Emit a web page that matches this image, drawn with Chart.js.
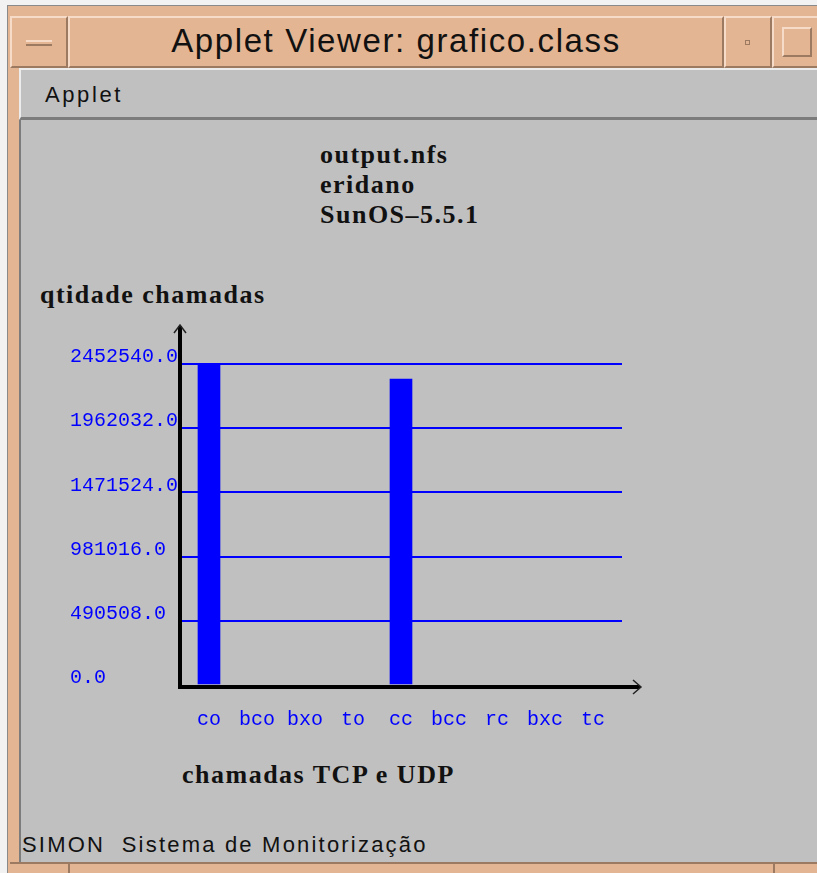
<!DOCTYPE html>
<html>
<head>
<meta charset="utf-8">
<script src="https://cdn.jsdelivr.net/npm/chart.js@4/dist/chart.umd.min.js"></script>
<style>
  html, body { margin: 0; padding: 0; width: 817px; height: 873px; overflow: hidden; background: #f2f2f2; }
  .abs { position: absolute; box-sizing: border-box; }
  .peach { background: #e4b592; }
  .bev { border-top: 2px solid #f6dcc8; border-left: 2px solid #f6dcc8; border-right: 2px solid #9c7a62; border-bottom: 2px solid #9c7a62; }
  .sans { font-family: "Liberation Sans", Arial, sans-serif; color: #111; }
  .serif { font-family: "Liberation Serif", "Times New Roman", serif; font-weight: bold; color: #111; letter-spacing: 1.5px; }
  #wrap { position: absolute; left: 0; top: 0; width: 817px; height: 873px; }
</style>
</head>
<body>
<!-- janela -->
<div class="abs" style="left:7px;top:5px;width:830px;height:880px;border:1px solid #8a8a8a;background:#e4b592;"></div>
<div class="abs peach bev" style="left:10px;top:16px;width:58px;height:52px;"></div>
<div class="abs" style="left:26px;top:40px;width:26px;height:6px;border-top:2px solid #f6dcc8;border-bottom:2px solid #9c7a62;background:#e4b592;"></div>
<div class="abs peach bev" style="left:68px;top:16px;width:656px;height:52px;"></div>
<div class="abs peach bev" style="left:724px;top:16px;width:48px;height:52px;"></div>
<div class="abs" style="left:745px;top:40px;width:5px;height:5px;border:1px solid #9c7a62;"></div>
<div class="abs peach bev" style="left:772px;top:16px;width:60px;height:52px;"></div>
<div class="abs" style="left:782px;top:27px;width:30px;height:30px;border-top:2px solid #f6dcc8;border-left:2px solid #f6dcc8;border-right:2px solid #9c7a62;border-bottom:2px solid #9c7a62;"></div>
<div class="abs sans" style="left:68px;top:19px;width:656px;height:44px;line-height:44px;text-align:center;font-size:33px;letter-spacing:1.6px;">Applet Viewer: grafico.class</div>
<!-- menu -->
<div class="abs" style="left:19px;top:68px;width:810px;height:52px;background:#c0c0c0;border-top:2px solid #ececec;border-left:2px solid #ececec;border-bottom:3px solid #7c7c7c;"></div>
<div class="abs sans" style="left:45px;top:80px;font-size:22px;line-height:30px;letter-spacing:2.6px;">Applet</div>
<!-- conteudo -->
<div class="abs" style="left:19px;top:120px;width:810px;height:742px;background:#c0c0c0;border-left:2px solid #7c7c7c;"></div>
<div class="abs" style="left:10px;top:862px;width:820px;height:12px;background:#e4b592;border-top:2px solid #9c7a62;"></div>
<div class="abs" style="left:68px;top:864px;width:2px;height:10px;background:#9c7a62;"></div>
<div class="abs" style="left:773px;top:864px;width:2px;height:10px;background:#9c7a62;"></div>
<div class="abs sans" style="left:22px;top:830px;font-size:22px;line-height:30px;white-space:pre;letter-spacing:2.2px;">SIMON  Sistema de Monitorização</div>
<!-- titulos do grafico -->
<div class="abs serif" style="left:320px;top:140px;font-size:26px;line-height:30px;">output.nfs<br>eridano<br>SunOS&ndash;5.5.1</div>
<div class="abs serif" style="left:40px;top:280px;font-size:26px;line-height:30px;">qtidade chamadas</div>
<div class="abs serif" style="left:182px;top:760px;font-size:26px;line-height:30px;">chamadas TCP e UDP</div>

<div id="wrap"><canvas id="grafico"></canvas></div>

<script>
const categorias = ["co", "bco", "bxo", "to", "cc", "bcc", "rc", "bxc", "tc"];
const chamadas = [2452540, 0, 0, 0, 2338000, 0, 0, 0, 0];
const marcasY = [0, 490508, 981016, 1471524, 1962032, 2452540];

const azul = "#0000ff";
const fonteMono = { family: "'Liberation Mono', 'Courier New', monospace", size: 20 };

// eixos pretos com setas, por cima das barras
const eixos = {
  id: "eixos",
  afterDatasetsDraw(chart) {
    const { ctx, chartArea } = chart;
    const x0 = chartArea.left, y0 = chartArea.bottom;
    ctx.save();
    ctx.strokeStyle = "#000";
    ctx.lineWidth = 4;
    ctx.beginPath();
    ctx.moveTo(x0, chartArea.top - 38);
    ctx.lineTo(x0, y0 + 2);
    ctx.lineTo(chartArea.right + 18, y0 + 2);
    ctx.stroke();
    ctx.lineWidth = 1.5;
    ctx.strokeStyle = "#222";
    ctx.beginPath();
    ctx.moveTo(x0 - 6, chartArea.top - 31);
    ctx.lineTo(x0, chartArea.top - 39);
    ctx.lineTo(x0 + 6, chartArea.top - 31);
    ctx.moveTo(chartArea.right + 11, y0 - 5);
    ctx.lineTo(chartArea.right + 19, y0 + 2);
    ctx.lineTo(chartArea.right + 11, y0 + 9);
    ctx.stroke();
    ctx.restore();
  }
};

new Chart(document.getElementById("grafico"), {
  type: "bar",
  data: {
    datasets: [{
      data: categorias.map((c, i) => ({ x: i, y: chamadas[i] })),
      backgroundColor: (c) => (c.raw && c.raw.y > 0 ? azul : "rgba(0,0,0,0)"),
      borderWidth: 0,
      barThickness: 22
    }]
  },
  options: {
    responsive: true,
    maintainAspectRatio: false,
    animation: false,
    layout: { padding: { left: 70, top: 364, right: 195, bottom: 128 } },
    plugins: { legend: { display: false }, tooltip: { enabled: false } },
    scales: {
      x: {
        type: "linear",
        offset: false,
        min: -0.604,
        max: 8.604,
        afterBuildTicks: (s) => { s.ticks = categorias.map((c, i) => ({ value: i })); },
        afterFit: (s) => { s.height = 60; },
        grid: { display: false, offset: false },
        border: { display: false },
        ticks: {
          color: azul,
          font: fonteMono,
          padding: 15,
          autoSkip: false,
          maxRotation: 0,
          callback: (v) => categorias[v]
        }
      },
      y: {
        min: 0,
        max: 2452540,
        afterBuildTicks: (s) => { s.ticks = marcasY.map((v) => ({ value: v })); },
        afterFit: (s) => { s.width = 110; },
        border: { display: false },
        grid: {
          drawTicks: false,
          lineWidth: 2,
          color: (c) => (c.tick && c.tick.value === 0 ? "rgba(0,0,0,0)" : azul)
        },
        ticks: {
          color: azul,
          font: fonteMono,
          crossAlign: "far",
          labelOffset: -7,
          callback: (v) => v.toFixed(1)
        }
      }
    }
  },
  plugins: [eixos]
});
</script>
</body>
</html>
